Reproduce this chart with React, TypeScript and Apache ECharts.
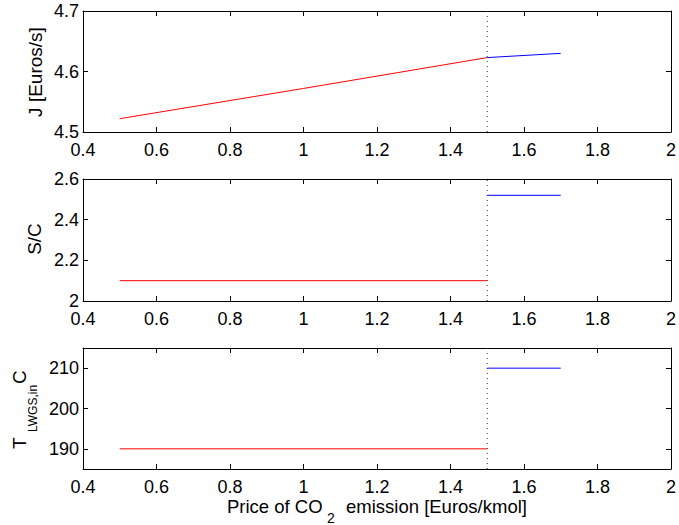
import React, { useEffect, useRef } from "react";
import * as echarts from "echarts";

// Plot 1: J [Euros/s]
const jRedX = [0.5, 1.0, 1.5];
const jRedY = [4.522, 4.572, 4.623];
const jBlueX = [1.5, 1.7];
const jBlueY = [4.623, 4.63];

// Plot 2: S/C
const scRedX = [0.5, 1.5];
const scRedY = [2.1, 2.1];
const scBlueX = [1.5, 1.7];
const scBlueY = [2.52, 2.52];

// Plot 3: T_LWGS,in
const tRedX = [0.5, 1.5];
const tRedY = [190, 190];
const tBlueX = [1.5, 1.7];
const tBlueY = [210, 210];

const switchPrice = 1.5;
const xMin = 0.4;
const xMax = 2;
const xInterval = 0.2;
const yRanges = [
  { min: 4.5, max: 4.7, interval: 0.1 },
  { min: 2, max: 2.6, interval: 0.2 },
  { min: 185, max: 215, interval: 10, ticks: [190, 200, 210] },
];

const FONT = "Liberation Sans, Arial, Helvetica, sans-serif";

export default function App() {
  const ref = useRef<HTMLDivElement>(null);
  useEffect(() => {
    if (!ref.current) return;
    const chart = echarts.init(ref.current, null, { renderer: "svg" });
    const grids = [
      { left: 83, right: 6, top: 11, height: 121 },
      { left: 83, right: 6, top: 179, height: 122 },
      { left: 83, right: 6, top: 348, height: 121 },
    ];
    const axisLine = { show: true, lineStyle: { color: "#000", width: 1 } };
    const tick = { show: true, inside: true, length: 5, lineStyle: { color: "#000", width: 1 } };
    const labelStyle = { color: "#000", fontSize: 18, fontFamily: FONT, lineHeight: 12 };
    const xAxis: any[] = [];
    const yAxis: any[] = [];
    grids.forEach((g, i) => {
      xAxis.push({
        type: "value", gridIndex: i, position: "bottom", min: xMin, max: xMax, interval: xInterval,
        axisLine, axisTick: tick, splitLine: { show: false },
        axisLabel: { ...labelStyle, margin: 12 },
      });
      xAxis.push({
        type: "value", gridIndex: i, position: "top", min: xMin, max: xMax, interval: xInterval,
        axisLine, axisTick: tick, splitLine: { show: false }, axisLabel: { show: false },
      });
      const r: any = yRanges[i];
      const base: any = {
        type: "value", gridIndex: i, min: r.min, max: r.max, interval: r.interval,
        axisLine, splitLine: { show: false },
      };
      const leftTick: any = { ...tick };
      const leftLabel: any = { ...labelStyle, margin: 4 };
      if (r.ticks) {
        leftTick.customValues = r.ticks;
        leftLabel.customValues = r.ticks;
      }
      yAxis.push({ ...base, position: "left", axisTick: leftTick, axisLabel: leftLabel });
      yAxis.push({ ...base, position: "right", axisTick: { ...leftTick }, axisLabel: { show: false } });
    });

    const mk = (xs: number[], ys: number[]) => xs.map((x, k) => [x, ys[k]]);
    const line = (i: number, data: number[][], color: string) => ({
      type: "line", xAxisIndex: i * 2, yAxisIndex: i * 2, data, showSymbol: false, symbol: "none",
      lineStyle: { color, width: 1 }, silent: true,
    });
    const vline = (i: number) => ({
      type: "line", xAxisIndex: i * 2, yAxisIndex: i * 2,
      data: [[switchPrice, yRanges[i].min], [switchPrice, yRanges[i].max]],
      symbol: "none", lineStyle: { color: "#333", width: 1, type: [1, 4] }, silent: true,
    });
    const series = [
      vline(0), line(0, mk(jRedX, jRedY), "#ff0000"), line(0, mk(jBlueX, jBlueY), "#0000ff"),
      vline(1), line(1, mk(scRedX, scRedY), "#ff0000"), line(1, mk(scBlueX, scBlueY), "#0000ff"),
      vline(2), line(2, mk(tRedX, tRedY), "#ff0000"), line(2, mk(tBlueX, tBlueY), "#0000ff"),
    ];

    const t = (text: string, x: number, y: number, size: number, rot: number, align: string, lh?: number) => ({
      type: "text", x, y, rotation: rot,
      style: {
        text, fill: "#000", fontSize: size, fontFamily: FONT, align, verticalAlign: "middle",
        lineHeight: lh ?? size,
      },
    });
    const R = Math.PI / 2;
    const graphic = [
      t("J [Euros/s]", 35, 72, 19, R, "center"),
      t("S/C", 34, 239, 19, R, "center"),
      t("T", 19, 449, 19, R, "left"),
      t("LWGS,in", 33, 432, 12, R, "left"),
      t("C", 19, 384, 19, R, "left"),
      t("Price of CO", 227, 506, 18.5, 0, "left", 10),
      t("2", 327, 518, 14, 0, "left", 10),
      t("emission [Euros/kmol]", 346, 506, 18.5, 0, "left", 10),
    ];

    chart.setOption({
      animation: false,
      backgroundColor: "#fff",
      grid: grids,
      xAxis,
      yAxis,
      series,
      graphic,
    });
    return () => chart.dispose();
  }, []);
  return (
    <div
      ref={ref}
      style={{ position: "fixed", left: 0, top: 0, width: 679, height: 525, background: "#fff" }}
    />
  );
}
